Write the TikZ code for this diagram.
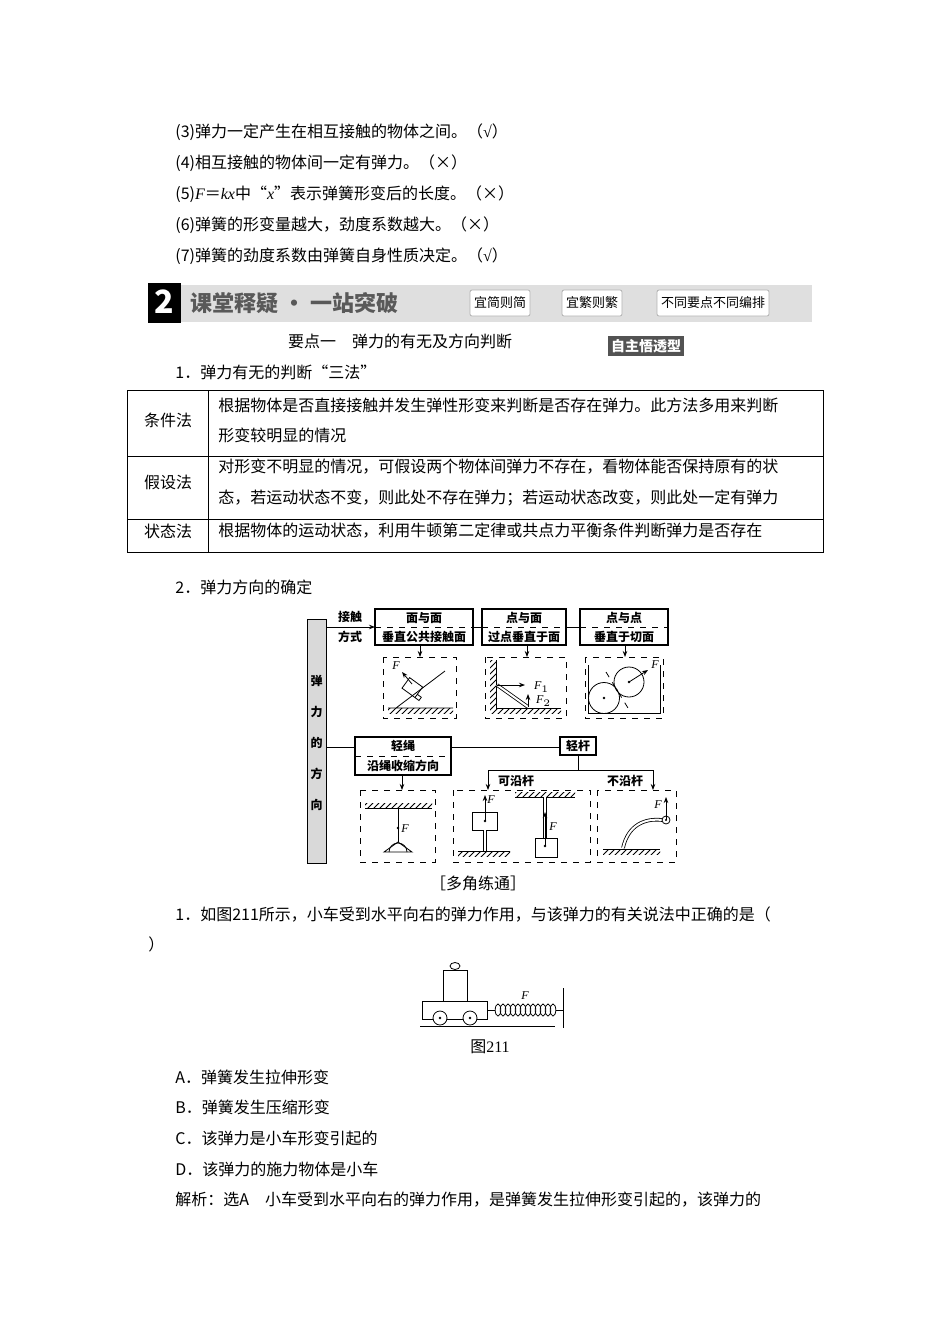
\documentclass[tikz,border=0pt]{standalone}
\usepackage{fontspec}
\setmainfont{Noto Sans CJK SC}
\newfontfamily\lat{Liberation Serif}
\usetikzlibrary{patterns,arrows.meta}
\newcommand\vF{{\lat\itshape F}}
\newcommand\ok{{\lat √}}
\newcommand\fs{\fontsize{8pt}{9pt}\selectfont}
\newcommand\fss{\fontsize{6pt}{7pt}\selectfont}
\tikzset{
  txt/.style={anchor=west,inner sep=0pt,font=\fs},
  ctxt/.style={inner sep=0pt,font=\fs},
  dtxt/.style={inner sep=0pt,font=\fss\bfseries},
  kindbox/.style={draw,thick},
  sketchbox/.style={draw,dashed},
  hatch/.style={pattern=north east lines,draw=none},
  arr/.style={-{Stealth[length=3pt]}},
  button/.style={draw=gray!60,fill=white,rounded corners=1pt,minimum height=13pt,inner sep=2pt,font=\fontsize{6.5pt}{7pt}\selectfont}
}
\begin{document}
\begin{tikzpicture}[x=0.5pt,y=-0.5pt]
\useasboundingbox[fill=white] (0,0) rectangle (950,1344);
% judgement lines
\node[txt] (l3) at (175,132) {(3)弹力一定产生在相互接触的物体之间。（\ok）};
\node[txt] (l4) at (175,163) {(4)相互接触的物体间一定有弹力。（×）};
\node[txt] (l5) at (175,194) {(5){\lat\itshape F}＝{\lat\itshape kx}中“{\lat\itshape x}”表示弹簧形变后的长度。（×）};
\node[txt] (l6) at (175,225) {(6)弹簧的形变量越大，劲度系数越大。（×）};
\node[txt] (l7) at (175,256) {(7)弹簧的劲度系数由弹簧自身性质决定。（\ok）};
% banner
\fill[gray!25] (148,285) rectangle (812,322);
\fill[black] (148,283) rectangle (181,323);
\node[inner sep=0pt,text=white,font=\fontsize{16pt}{16pt}\selectfont\bfseries] (num) at (164,302) {2};
\node[anchor=west,inner sep=0pt,text=gray!70!black,font=\fontsize{11pt}{12pt}\selectfont\bfseries] (title) at (190,303) {课堂释疑 · 一站突破};
\node[button] (b1) at (500,303) {宜简则简};
\node[button] (b2) at (592,303) {宜繁则繁};
\node[button] (b3) at (713,303) {不同要点不同编排};
\node[ctxt] (point) at (400,341) {要点一\quad 弹力的有无及方向判断};
\node[fill=gray!65!black,text=white,inner sep=1.5pt,font=\fontsize{7pt}{8pt}\selectfont\bfseries] (self) at (646,346) {自主悟透型};
\node[txt] (h1) at (175,372) {1．弹力有无的判断“三法”};
% table
\draw (127,390) rectangle (823,552);
\draw (127,456) -- (823,456) (127,519) -- (823,519) (208,390) -- (208,552);
\node[ctxt] (m1) at (168,420) {条件法};
\node[ctxt] (m2) at (168,482) {假设法};
\node[ctxt] (m3) at (168,531) {状态法};
\node[txt] (r1a) at (218,405) {根据物体是否直接接触并发生弹性形变来判断是否存在弹力。此方法多用来判断};
\node[txt] (r1b) at (218,435) {形变较明显的情况};
\node[txt] (r2a) at (218,467) {对形变不明显的情况，可假设两个物体间弹力不存在，看物体能否保持原有的状};
\node[txt] (r2b) at (218,498) {态，若运动状态不变，则此处不存在弹力；若运动状态改变，则此处一定有弹力};
\node[txt] (r3) at (218,531) {根据物体的运动状态，利用牛顿第二定律或共点力平衡条件判断弹力是否存在};
\node[txt] (h2) at (175,587) {2．弹力方向的确定};
% direction diagram
\draw[fill=gray!30] (307,619) rectangle (326,863);
\foreach \c [count=\i] in {弹,力,的,方,向}
  \node[dtxt] (v\i) at (316.5,650+31*\i) {\c};
\node[dtxt] (contact1) at (350,617) {接触};
\node[dtxt] (contact2) at (350,637) {方式};
\draw[kindbox] (375,609) rectangle (473,645);
\draw[kindbox] (482,609) rectangle (566,645);
\draw[kindbox] (580,609) rectangle (668,645);
\draw[dashed] (375,627) -- (473,627) (482,627) -- (566,627) (580,627) -- (668,627);
\draw[arr] (326,627) -- (375,627);
\draw (473,627) -- (482,627) (566,627) -- (580,627);
\node[dtxt] (k1) at (424,618) {面与面};
\node[dtxt] (k1b) at (424,637) {垂直公共接触面};
\node[dtxt] (k2) at (524,618) {点与面};
\node[dtxt] (k2b) at (524,637) {过点垂直于面};
\node[dtxt] (k3) at (624,618) {点与点};
\node[dtxt] (k3b) at (624,637) {垂直于切面};
\draw[arr] (420,645) -- (420,657);
\draw[arr] (527,645) -- (527,657);
\draw[arr] (625,645) -- (625,657);
\draw[sketchbox] (383,657) rectangle (456,718);
\draw[sketchbox] (485,657) rectangle (566,718);
\draw[sketchbox] (585,657) rectangle (663,718);
% surface-surface
\fill[hatch] (388,708) rectangle (453,713);
\draw (388,708) -- (453,708) (396,708) -- (445,671);
\draw[rotate around={-36:(412,688)}] (404,681) rectangle (420,694) (420,690) rectangle (425,694);
\draw[arr] (412,684) -- (402,672);
\node[font=\fss] (fa) at (396,666) {\vF};
% point-surface
\fill[hatch] (490,660) rectangle (496,713);
\fill[hatch] (496,708) rectangle (561,713);
\draw (496,660) -- (496,708) -- (561,708);
\draw[double,double distance=1pt] (497,685) -- (528,707);
\draw[arr] (497,685) -- (525,685);
\draw[arr] (528,707) -- (528,694);
\node[font=\fss,anchor=west] (fb1) at (527,687) {\vF$_1$};
\node[font=\fss,anchor=west] (fb2) at (529,701) {\vF$_2$};
% point-point
\draw (588,665) -- (588,713) -- (660,713) -- (660,665);
\draw (604,698) circle (15.5) (629,682) circle (15);
\fill (604,698) circle (1.3) (629,682) circle (1.3);
\draw[dashed] (606,672) -- (628,708);
\draw[arr] (629,682) -- (648,670);
\node[font=\fss] (fc) at (655,665) {\vF};
% rope and rod
\draw (326,747) -- (355,747);
\draw[kindbox] (355,737) rectangle (451,775);
\draw[dashed] (355,756) -- (451,756);
\node[dtxt] (rope) at (403,746) {轻绳};
\node[dtxt] (ropeb) at (403,766) {沿绳收缩方向};
\draw (451,747) -- (560,747);
\draw[kindbox] (560,737) rectangle (596,755);
\node[dtxt] (rod) at (578,746) {轻杆};
\draw (578,755) -- (578,770);
\draw (488,770) -- (653,770);
\draw[arr] (488,770) -- (488,790);
\draw[arr] (653,770) -- (653,790);
\node[dtxt] (along) at (516,781) {可沿杆};
\node[dtxt] (notalong) at (625,781) {不沿杆};
\draw[arr] (402,775) -- (402,790);
\draw[sketchbox] (360,790) rectangle (435,862);
\draw[sketchbox] (453,790) rectangle (590,862);
\draw[sketchbox] (597,790) rectangle (676,862);
% lamp
\fill[hatch] (365,803) rectangle (432,808);
\draw (365,808) -- (432,808) (398,808) -- (398,842);
\fill (398,828) circle (1.3);
\node[font=\fss] (fd) at (405,829) {\vF};
\draw (398,842) -- (384,852) -- (412,852) -- cycle;
\draw (389,852) arc (180:360:9);
% rod supports
\fill[hatch] (458,851) rectangle (510,856);
\draw (458,851) -- (510,851);
\draw (472,812) rectangle (497,830);
\draw[double,double distance=1pt] (485,830) -- (485,851);
\fill (485,821) circle (1.3);
\draw[arr] (485,821) -- (485,795);
\node[font=\fss] (fe) at (491,800) {\vF};
\fill[hatch] (515,792) rectangle (575,797);
\draw (515,797) -- (575,797);
\draw[double,double distance=1pt] (545,797) -- (545,838);
\draw (535,838) rectangle (557,857);
\fill (545,846) circle (1.3);
\draw[arr] (545,846) -- (545,812);
\node[font=\fss] (ff) at (553,827) {\vF};
% bent rod
\fill[hatch] (603,849) rectangle (660,854);
\draw (603,849) -- (660,849);
\draw[double,double distance=1pt] (623,848) .. controls (628,825) and (645,818) .. (662,820);
\draw (666,820) circle (4);
\fill (666,820) circle (1.2);
\draw[arr] (666,820) -- (666,797);
\node[font=\fss] (fg) at (658,805) {\vF};
\node[ctxt] (practice) at (478,883) {［多角练通］};
\node[txt] (q1) at (175,914) {1．如图211所示，小车受到水平向右的弹力作用，与该弹力的有关说法中正确的是（};
\node[txt] (q1b) at (148,944) {）};
% cart figure
\draw (420,1026) -- (555,1026);
\draw (563,988) -- (563,1028);
\draw (422,1001) rectangle (487,1019);
\draw (443,970) rectangle (467,1001);
\draw (455,966) ellipse (5 and 3.5);
\foreach \wx in {440,470} {
  \draw[fill=white] (\wx,1018) circle (7);
  \fill (\wx,1018) circle (1.3);
}
\draw (487,1010) -- (495,1010);
\foreach \s in {0,...,11}
  \draw (498+5*\s,1010) ellipse (2.8 and 6);
\draw (556,1010) -- (563,1010);
\node[font=\fss] (fs) at (525,996) {\vF};
\node[ctxt] (cap) at (490,1047) {图{\lat 211}};
\node[txt] (oa) at (175,1077) {A．弹簧发生拉伸形变};
\node[txt] (ob) at (175,1107) {B．弹簧发生压缩形变};
\node[txt] (oc) at (175,1138) {C．该弹力是小车形变引起的};
\node[txt] (od) at (175,1169) {D．该弹力的施力物体是小车};
\node[txt] (ans) at (175,1200) {解析：选A\quad 小车受到水平向右的弹力作用，是弹簧发生拉伸形变引起的，该弹力的};
\end{tikzpicture}
\end{document}
